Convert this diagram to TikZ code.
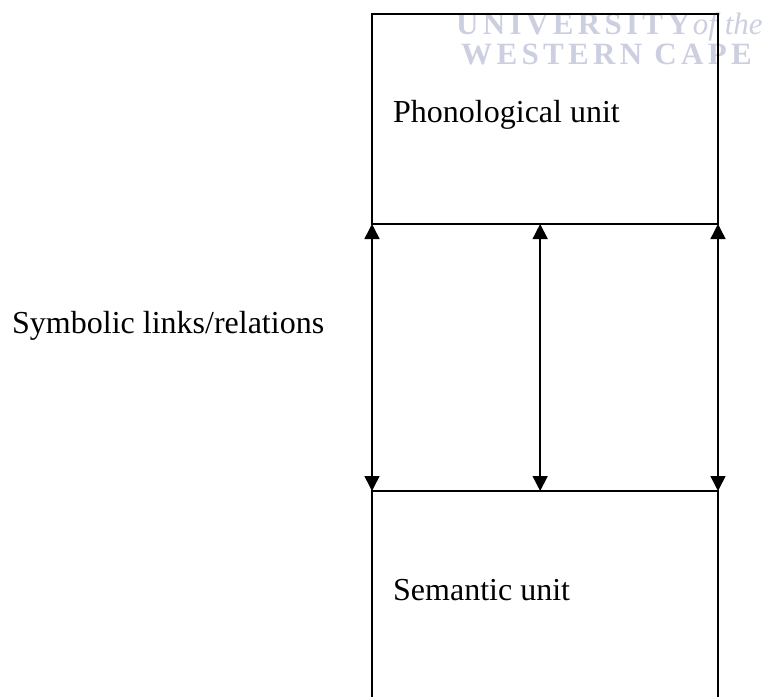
\documentclass[tikz,border=0pt]{standalone}
\usepackage{fontspec}
\setmainfont{Liberation Serif}
\newfontfamily\wmfont{Liberation Serif}[LetterSpace=14]
\usetikzlibrary{arrows.meta,calc}
\definecolor{wmgray}{RGB}{204,207,224}
\tikzset{
  unitbox/.style={draw, line width=1.6pt, rectangle, outer sep=0pt, inner sep=0pt,
    minimum width=346pt},
  label/.style={anchor=base west, inner sep=0pt, font=\fontsize{32}{38}\selectfont},
  wmark/.style={anchor=base west, inner sep=0pt, text=wmgray, font=\fontsize{31}{34}\selectfont},
  link/.style={line width=1.5pt, {Triangle[width=15pt,length=15pt]}-{Triangle[width=15pt,length=15pt]}}
}
\begin{document}
\begin{tikzpicture}[x=1pt,y=-1pt]
  \useasboundingbox (0,0) rectangle (773,696);
  % watermark behind the upper box
  \node[wmark] (wm1) at (456,34) {{\wmfont\bfseries UNIVERSITY}\hspace{3pt}{\itshape of the}};
  \node[wmark] (wm2) at (461,64) {{\wmfont\bfseries WESTERN CAPE}};
  % the two units
  \node[unitbox, minimum height=210pt] (phon) at (545,119) {};
  \node[unitbox, minimum height=240pt] (sem) at (545,611) {};
  \node[label] (phonlbl) at (393,122) {Phonological unit};
  \node[label] (semlbl) at (393,600) {Semantic unit};
  \node[label] (symlbl) at (12,333) {Symbolic links/relations};
  % symbolic links between the units
  \coordinate (tm) at ($(phon.south west)!0.486!(phon.south east)$);
  \coordinate (bm) at ($(sem.north west)!0.486!(sem.north east)$);
  \draw[link] (phon.south west) -- (sem.north west);
  \draw[link] (tm) -- (bm);
  \draw[link] (phon.south east) -- (sem.north east);
\end{tikzpicture}
\end{document}
